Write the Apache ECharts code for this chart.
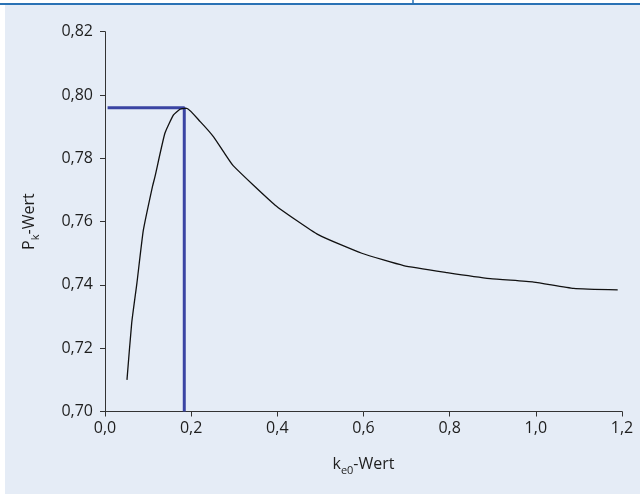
<!DOCTYPE html>
<html>
<head>
<meta charset="utf-8">
<script src="https://cdn.jsdelivr.net/npm/echarts@6/dist/echarts.min.js"></script>
<style>
html,body{margin:0;padding:0;background:#ffffff;}
#chart{width:640px;height:494px;}
</style>
</head>
<body>
<div id="chart"></div>
<script>
// k_e0 values and P_k values of the curve
const keValues = [0.051, 0.062, 0.074, 0.089, 0.110, 0.116, 0.139, 0.159, 0.174, 0.186, 0.190, 0.221, 0.252, 0.275, 0.298, 0.395, 0.496, 0.596, 0.693, 0.794, 0.894, 0.995, 1.088, 1.190];
const pkValues = [0.710, 0.728, 0.7405, 0.7573, 0.771, 0.7742, 0.7879, 0.7937, 0.7955, 0.7958, 0.7958, 0.7916, 0.7868, 0.7821, 0.7776, 0.7652, 0.7558, 0.7500, 0.7461, 0.7439, 0.7420, 0.7409, 0.7389, 0.7384];
// optimum marker
const optimumKe = 0.184;
const optimumPk = 0.796;
const markerStartKe = 0.006;
// axes
const xTickLabels = ['0,0', '0,2', '0,4', '0,6', '0,8', '1,0', '1,2'];
const yTickLabels = ['0,70', '0,72', '0,74', '0,76', '0,78', '0,80', '0,82'];

const curve = keValues.map((k, i) => [k, pkValues[i]]);
const marker = [[markerStartKe, optimumPk], [optimumKe, optimumPk], [optimumKe, 0.70]];

const chart = echarts.init(document.getElementById('chart'), null, {renderer: 'canvas'});
const font = '"Open Sans", "Noto Sans", sans-serif';
const axisColor = '#333333';
const txt = '#1e1e1e';
chart.setOption({
  backgroundColor: '#ffffff',
  animation: false,
  graphic: [
    {type: 'rect', silent: true, z: -10, shape: {x: 5, y: 5, width: 635, height: 489}, style: {fill: '#e5ecf6'}},
    {type: 'line', silent: true, shape: {x1: 0, y1: 4, x2: 640, y2: 4}, style: {stroke: '#2a72b5', lineWidth: 2}},
    {type: 'line', silent: true, shape: {x1: 413, y1: 0, x2: 413, y2: 4}, style: {stroke: '#2a72b5', lineWidth: 1.5}}
  ],
  grid: {left: 105, right: 18, top: 31.7, bottom: 82.5, containLabel: false},
  xAxis: {
    type: 'value', min: 0, max: 1.2, interval: 0.2,
    name: '{t|k}{s|e0}{t|-Wert}',
    nameLocation: 'middle', nameGap: 45,
    nameTextStyle: {
      fontFamily: font, fontSize: 16, color: txt,
      rich: {
        t: {fontFamily: font, fontSize: 16, color: txt, verticalAlign: 'top', lineHeight: 20},
        s: {fontFamily: font, fontSize: 11, color: txt, verticalAlign: 'bottom', lineHeight: 20, padding: [8, 0, 0, 0]}
      }
    },
    axisLine: {show: true, onZero: false, lineStyle: {color: axisColor, width: 1}},
    axisTick: {show: true, length: 5, lineStyle: {color: axisColor}},
    splitLine: {show: false},
    axisLabel: {
      margin: 9, fontFamily: font, fontSize: 16, color: txt,
      formatter: (v) => xTickLabels[Math.round(v / 0.2)]
    }
  },
  yAxis: {
    type: 'value', min: 0.70, max: 0.82, interval: 0.02,
    name: '{t|P}{s|k}{t|-Wert}',
    nameLocation: 'middle', nameGap: 64, nameRotate: 90,
    nameTextStyle: {
      fontFamily: font, fontSize: 16, color: txt,
      rich: {
        t: {fontFamily: font, fontSize: 16, color: txt, verticalAlign: 'top', lineHeight: 20},
        s: {fontFamily: font, fontSize: 11, color: txt, verticalAlign: 'bottom', lineHeight: 20, padding: [8, 0, 0, 0]}
      }
    },
    axisLine: {show: true, onZero: false, lineStyle: {color: axisColor, width: 1}},
    axisTick: {show: true, length: 5, lineStyle: {color: axisColor}},
    splitLine: {show: false},
    axisLabel: {
      margin: 12, fontFamily: font, fontSize: 16, color: txt,
      formatter: (v) => yTickLabels[Math.round((v - 0.70) / 0.02)]
    }
  },
  series: [
    {
      type: 'line', data: curve, showSymbol: false, smooth: 0.15,
      lineStyle: {color: '#111111', width: 1.3}, z: 3
    },
    {
      type: 'line', data: marker, showSymbol: false,
      lineStyle: {color: '#3a44a3', width: 3}, z: 2
    }
  ]
});
</script>
</body>
</html>
